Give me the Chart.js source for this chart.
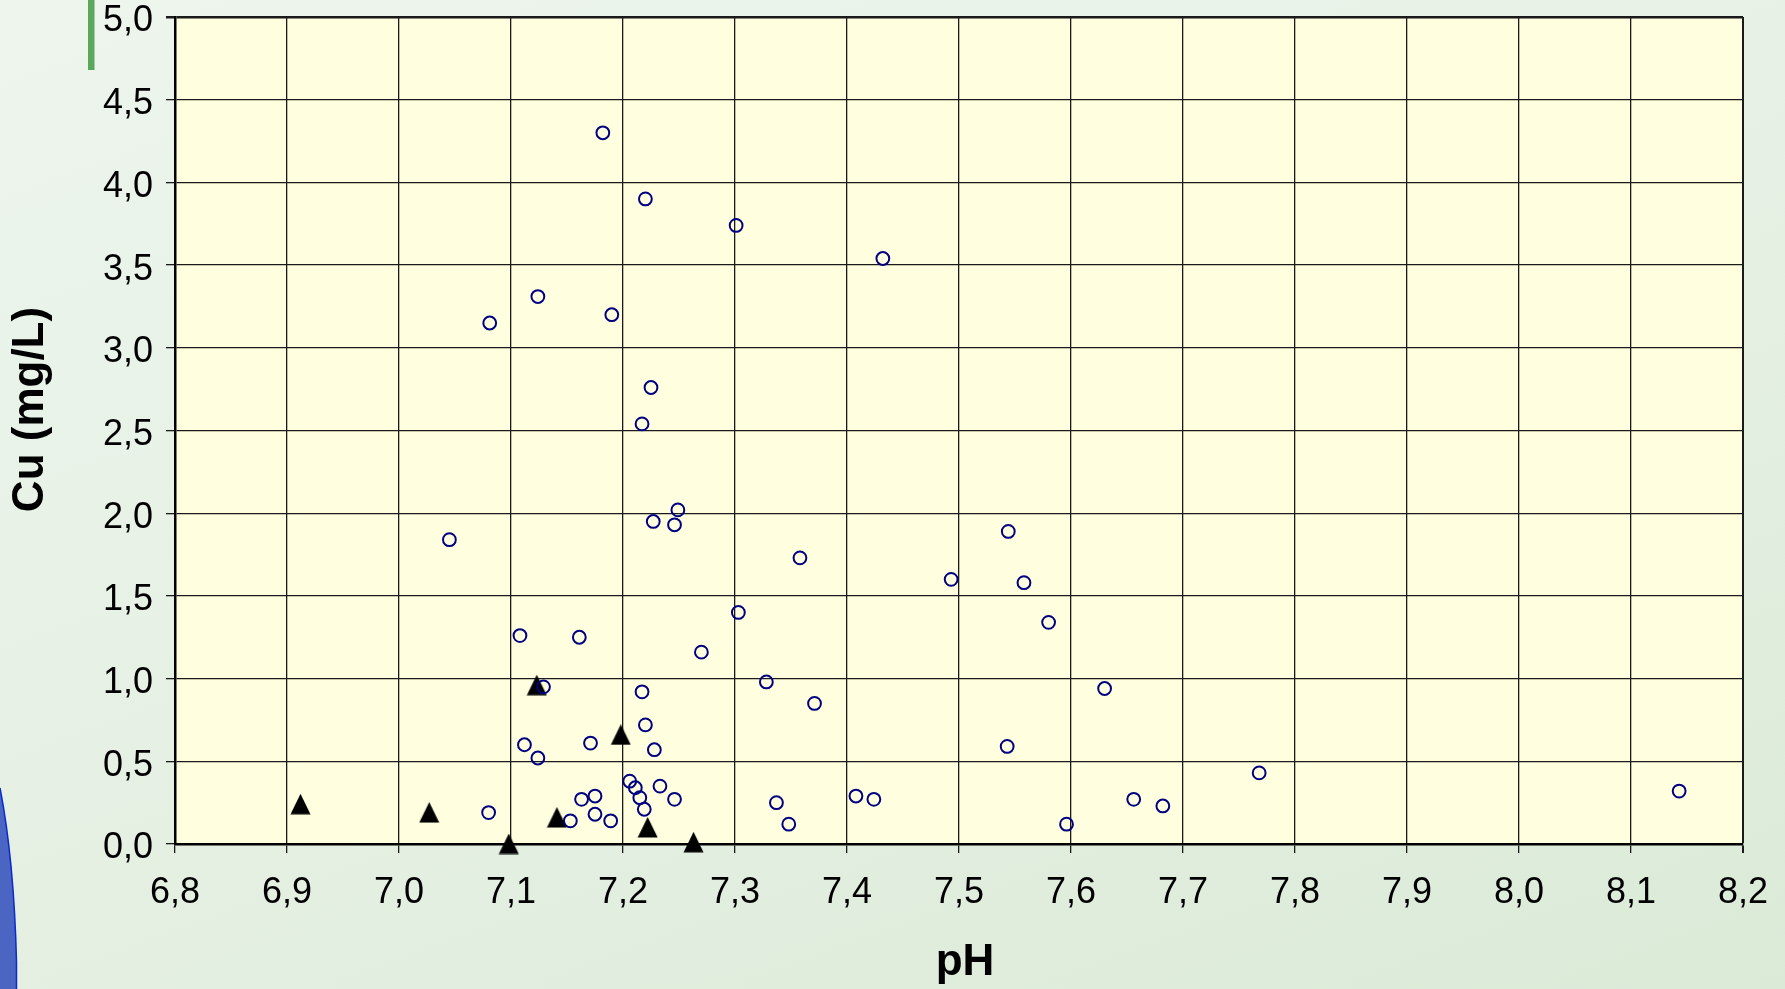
<!DOCTYPE html>
<html>
<head>
<meta charset="utf-8">
<title>Cu vs pH</title>
<script src="https://cdn.jsdelivr.net/npm/chart.js@4.4.1/dist/chart.umd.min.js"></script>
<style>
  html, body { margin: 0; padding: 0; }
  body {
    width: 1785px; height: 989px; overflow: hidden;
    background: linear-gradient(160deg, #edf5ed 0%, #e5f0e3 55%, #dbead7 100%);
  }
  canvas { display: block; }
</style>
</head>
<body>
<canvas id="cuChart" width="1785" height="989"></canvas>
<script>
// open circles
const phOpen = [7.182, 7.220, 7.301, 7.432, 7.124, 7.190, 7.081, 7.225, 7.217, 7.249,
                7.227, 7.246, 7.045, 7.358, 7.544, 7.493, 7.558, 7.580, 7.303, 7.108,
                7.161, 7.270, 7.328, 7.129, 7.217, 7.371, 7.630, 7.220, 7.112, 7.171,
                7.228, 7.124, 7.543, 7.768, 8.143, 7.080, 7.206, 7.211, 7.233, 7.175,
                7.163, 7.215, 7.246, 7.408, 7.424, 7.337, 7.175, 7.219, 7.153, 7.189,
                7.348, 7.656, 7.682, 7.596];
const cuOpen = [4.30, 3.90, 3.74, 3.54, 3.31, 3.20, 3.15, 2.76, 2.54, 2.02,
                1.95, 1.93, 1.84, 1.73, 1.89, 1.60, 1.58, 1.34, 1.40, 1.26,
                1.25, 1.16, 0.98, 0.95, 0.92, 0.85, 0.94, 0.72, 0.60, 0.61,
                0.57, 0.52, 0.59, 0.43, 0.32, 0.19, 0.38, 0.34, 0.35, 0.29,
                0.27, 0.28, 0.27, 0.29, 0.27, 0.25, 0.18, 0.21, 0.14, 0.14,
                0.12, 0.27, 0.23, 0.12];

// filled triangles
const phFilled = [6.912, 7.027, 7.098, 7.123, 7.141, 7.198, 7.222, 7.263];
const cuFilled = [0.24, 0.19, 0.00, 0.96, 0.16, 0.66, 0.10, 0.01];

const phRange = [6.8, 8.2];
const cuRange = [0, 5];
const xTitle = 'pH';
const yTitle = 'Cu (mg/L)';

const FONT = '"Liberation Sans", Arial, sans-serif';
Chart.defaults.font.family = FONT;

// excel style triangle marker, centred on its box
function triangleMarker() {
  const c = document.createElement('canvas');
  c.width = 21; c.height = 21;
  const g = c.getContext('2d');
  g.fillStyle = '#000';
  g.beginPath();
  g.moveTo(10.5, 0);
  g.lineTo(20.5, 20.5);
  g.lineTo(0.5, 20.5);
  g.closePath();
  g.fill();
  return c;
}

const toComma = v => Number(v).toFixed(1).replace('.', ',');

const slideBackdrop = {
  id: 'slideBackdrop',
  beforeDraw(chart) {
    const {ctx, chartArea: a} = chart;
    ctx.save();
    ctx.fillStyle = '#ffffe0';
    ctx.fillRect(a.left, a.top, a.right - a.left, a.bottom - a.top);

    // bits of the slide template
    ctx.fillStyle = '#5ba75b';
    ctx.fillRect(88, 0, 6.5, 70);

    ctx.beginPath();
    ctx.moveTo(0, 788);
    ctx.quadraticCurveTo(14, 860, 16.5, 962);
    ctx.lineTo(16.5, 989);
    ctx.lineTo(0, 989);
    ctx.closePath();
    ctx.fillStyle = '#4a66c2';
    ctx.fill();
    ctx.beginPath();
    ctx.moveTo(0, 788);
    ctx.quadraticCurveTo(14, 860, 16.5, 962);
    ctx.lineTo(16.5, 989);
    ctx.strokeStyle = '#0a2acc';
    ctx.lineWidth = 1.5;
    ctx.stroke();
    ctx.restore();
  },
  afterDraw(chart) {
    const {ctx, chartArea: a} = chart;
    ctx.save();
    ctx.fillStyle = '#000';
    ctx.font = 'bold 44px ' + FONT;
    ctx.textAlign = 'center';
    ctx.textBaseline = 'middle';
    ctx.fillText(xTitle, (a.left + a.right) / 2 + 6, a.bottom + 119);
    ctx.translate(31, (a.top + a.bottom) / 2 - 21);
    ctx.rotate(-Math.PI / 2);
    ctx.fillText(yTitle, 0, 0);
    ctx.restore();
  }
};

new Chart(document.getElementById('cuChart'), {
  type: 'scatter',
  data: {
    datasets: [
      {
        label: 'open',
        data: phOpen.map((x, i) => ({x: x, y: cuOpen[i]})),
        pointStyle: 'circle',
        pointRadius: 6.4,
        pointBorderWidth: 2,
        pointBorderColor: '#000080',
        pointBackgroundColor: 'rgba(0,0,0,0)'
      },
      {
        label: 'filled',
        data: phFilled.map((x, i) => ({x: x, y: cuFilled[i]})),
        pointStyle: triangleMarker(),
        pointRadius: 10,
        clip: false
      }
    ]
  },
  options: {
    responsive: false,
    animation: false,
    devicePixelRatio: 1,
    events: [],
    layout: { padding: { top: 17, right: 42, left: 0, bottom: 0 } },
    plugins: {
      legend: { display: false },
      tooltip: { enabled: false }
    },
    scales: {
      x: {
        type: 'linear',
        min: phRange[0],
        max: phRange[1],
        ticks: {
          stepSize: 0.1,
          autoSkip: false,
          maxRotation: 0,
          padding: 22,
          color: '#000',
          font: { size: 36, lineHeight: 1.0 },
          callback: toComma
        },
        grid: {
          color: '#1a1a1a',
          lineWidth: c => (c.tick && Math.abs(c.tick.value - phRange[1]) < 1e-6) ? 2 : 1.3,
          tickLength: 9
        },
        border: { color: '#000', width: 2.5 },
        afterFit: s => { s.height = 145; s.paddingLeft = 0; s.paddingRight = 0; }
      },
      y: {
        type: 'linear',
        min: cuRange[0],
        max: cuRange[1],
        ticks: {
          stepSize: 0.5,
          padding: 13,
          labelOffset: 4.5,
          color: '#000',
          font: { size: 36, lineHeight: 1.0 },
          callback: toComma
        },
        grid: {
          color: '#1a1a1a',
          lineWidth: c => (c.tick && c.tick.value === cuRange[1]) ? 2.5 : 1.3,
          tickLength: 9
        },
        border: { color: '#000', width: 2.5 },
        afterFit: s => { s.width = 175; s.paddingTop = 0; s.paddingBottom = 0; }
      }
    }
  },
  plugins: [slideBackdrop]
});
</script>
</body>
</html>
